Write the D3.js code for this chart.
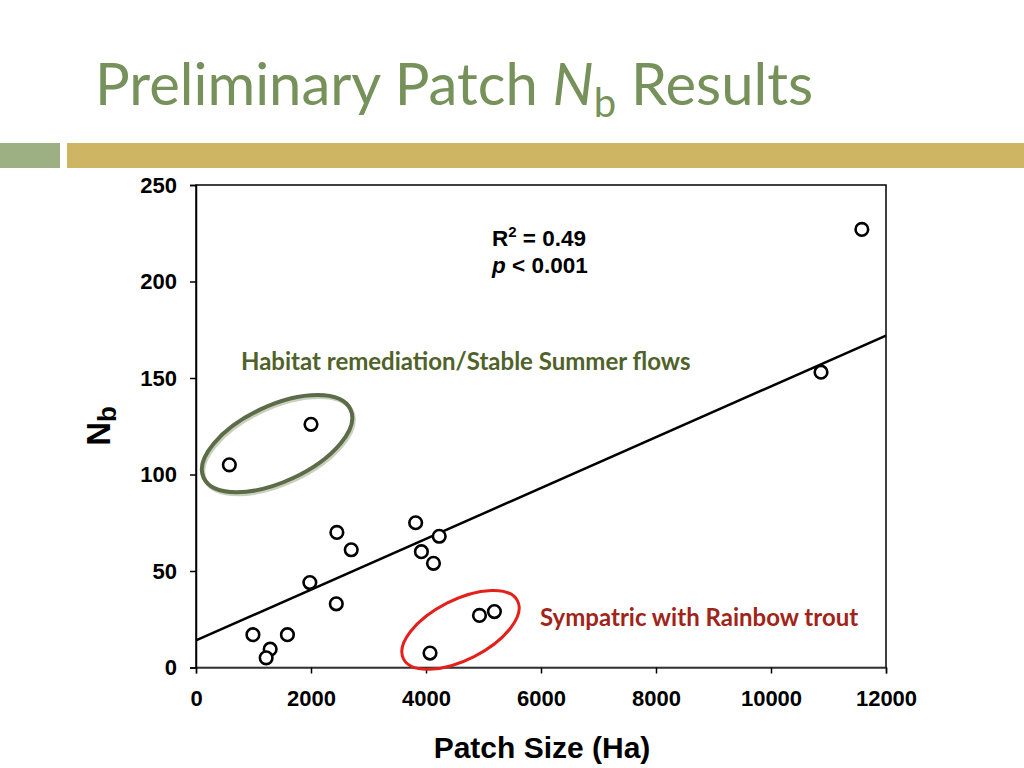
<!DOCTYPE html>
<html>
<head>
<meta charset="utf-8">
<script src="https://cdn.jsdelivr.net/npm/d3@7"></script>
<style>
  html, body { margin: 0; padding: 0; background: #fff; }
  svg { display: block; }
</style>
</head>
<body>
<script>
// ---- data ----
const patchSize = [580, 2000, 2450, 2700, 3820, 4230, 3920, 4130, 1980, 2440, 990, 1590, 1290, 1220, 4070, 4930, 5190, 10870, 11580];
const nb        = [105, 126, 70, 61, 75, 68, 60, 54, 44, 33, 17, 17, 9.5, 5, 7.5, 27, 29, 153, 227];
const xTicks = [0, 2000, 4000, 6000, 8000, 10000, 12000];
const yTicks = [0, 50, 100, 150, 200, 250];
const fitLine = [[0, 14], [12000, 172]];
const groupLabels = ["Habitat remediation/Stable Summer flows", "Sympatric with Rainbow trout"];
const groupCenters = [[1410, 116], [4600, 19.5]];

const W = 1024, H = 768;
const svg = d3.select("body").append("svg").attr("width", W).attr("height", H);

// header bars
svg.append("rect").attr("x", 0).attr("y", 143).attr("width", 60).attr("height", 25).attr("fill", "#9cb084");
svg.append("rect").attr("x", 67).attr("y", 143).attr("width", W - 67).attr("height", 25).attr("fill", "#cdb564");

// title
const title = svg.append("text").attr("x", 95).attr("y", 105)
  .attr("font-family", "Lato, 'Open Sans', sans-serif").attr("font-size", 58).attr("fill", "#76915a");
title.append("tspan").text("Preliminary Patch ");
title.append("tspan").attr("font-style", "italic").text("N");
title.append("tspan").attr("font-size", 40).attr("dy", 12).text("b");
title.append("tspan").attr("dy", -12).text(" Results");

// scales
const x = d3.scaleLinear().domain([0, 12000]).range([196, 886]);
const y = d3.scaleLinear().domain([0, 250]).range([667.5, 185]);

const axisFont = "'Liberation Sans', Arial, sans-serif";

// frame
svg.append("rect").attr("x", x(0)).attr("y", y(250)).attr("width", x(12000) - x(0)).attr("height", y(0) - y(250))
  .attr("fill", "none").attr("stroke", "#000").attr("stroke-width", 1.5);

const gx = svg.append("g").attr("transform", `translate(0,${y(0)})`)
  .call(d3.axisBottom(x).tickValues(xTicks).tickSize(6).tickPadding(17).tickFormat(d3.format("d")));
const gy = svg.append("g").attr("transform", `translate(${x(0)},0)`)
  .call(d3.axisLeft(y).tickValues(yTicks).tickSize(6).tickPadding(13));
[gx, gy].forEach(g => {
  g.select(".domain").attr("stroke", "#000").attr("stroke-width", 1.5);
  g.selectAll(".tick line").attr("stroke", "#000").attr("stroke-width", 1.5);
  g.selectAll(".tick text").attr("font-family", axisFont).attr("font-weight", "bold")
    .attr("font-size", 22).attr("fill", "#000");
});
gx.select(".domain").attr("stroke", "#444");

// axis labels
svg.append("text").attr("x", 542).attr("y", 758).attr("text-anchor", "middle")
  .attr("font-family", axisFont).attr("font-weight", "bold").attr("font-size", 30).text("Patch Size (Ha)");
const yl = svg.append("text").attr("transform", "translate(110,426) rotate(-90)").attr("text-anchor", "middle")
  .attr("font-family", axisFont).attr("font-weight", "bold").attr("font-size", 33);
yl.append("tspan").text("N");
yl.append("tspan").attr("font-size", 26).attr("dy", 6).text("b");

// fit line
svg.append("line")
  .attr("x1", x(fitLine[0][0])).attr("y1", y(fitLine[0][1]))
  .attr("x2", x(fitLine[1][0])).attr("y2", y(fitLine[1][1]))
  .attr("stroke", "#000").attr("stroke-width", 2.5);

// ellipses
const ell = [
  { c: groupCenters[0], rx: 81, ry: 38, rot: -25, stroke: "#5d6c48", sw: 4 },
  { c: groupCenters[1], rx: 64, ry: 30, rot: -27, stroke: "#e3211c", sw: 3 }
];
ell.forEach((e, i) => {
  if (i === 0) {
    svg.append("ellipse").attr("cx", 0).attr("cy", 0).attr("rx", e.rx).attr("ry", e.ry)
      .attr("transform", `translate(${x(e.c[0]) + 1.5},${y(e.c[1]) + 2}) rotate(${e.rot})`)
      .attr("fill", "none").attr("stroke", "#c9d0bd").attr("stroke-width", 4);
  }
  svg.append("ellipse").attr("cx", 0).attr("cy", 0).attr("rx", e.rx).attr("ry", e.ry)
    .attr("transform", `translate(${x(e.c[0])},${y(e.c[1])}) rotate(${e.rot})`)
    .attr("fill", "none").attr("stroke", e.stroke).attr("stroke-width", e.sw);
});

// points
svg.append("g").selectAll("circle").data(patchSize.map((d, i) => [d, nb[i]])).join("circle")
  .attr("cx", d => x(d[0])).attr("cy", d => y(d[1])).attr("r", 6.3)
  .attr("fill", "#fff").attr("stroke", "#000").attr("stroke-width", 2.6);

// stats text
const s1 = svg.append("text").attr("x", 492).attr("y", 246)
  .attr("font-family", axisFont).attr("font-weight", "bold").attr("font-size", 22.5);
s1.append("tspan").text("R");
s1.append("tspan").attr("font-size", 15).attr("dy", -9).text("2");
s1.append("tspan").attr("dy", 9).text(" = 0.49");
const s2 = svg.append("text").attr("x", 492).attr("y", 273)
  .attr("font-family", axisFont).attr("font-weight", "bold").attr("font-size", 22.5);
s2.append("tspan").attr("font-style", "italic").text("p");
s2.append("tspan").text(" < 0.001");

// group labels
svg.append("text").attr("x", 241).attr("y", 370)
  .attr("font-family", "Lato, 'Open Sans', sans-serif").attr("font-weight", "bold").attr("font-size", 24)
  .attr("fill", "#4f6229").text(groupLabels[0]);
svg.append("text").attr("x", 540).attr("y", 626)
  .attr("font-family", "Lato, 'Open Sans', sans-serif").attr("font-weight", "bold").attr("font-size", 24)
  .attr("fill", "#a02419").text(groupLabels[1]);
</script>
</body>
</html>
